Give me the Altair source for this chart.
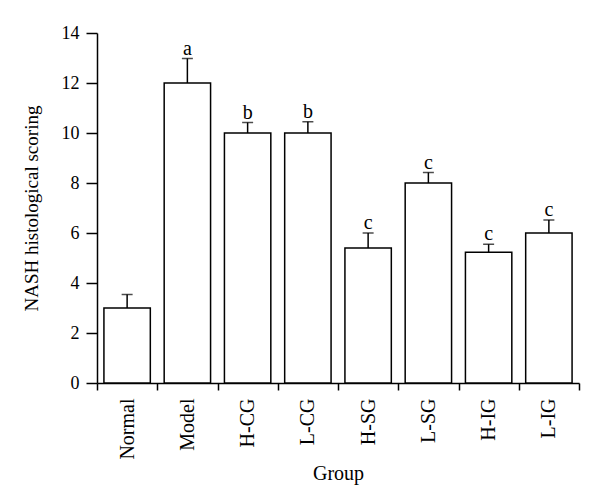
import altair as alt
import pandas as pd

groups = ["Normal", "Model", "H-CG", "L-CG", "H-SG", "L-SG", "H-IG", "L-IG"]
means = [3.0, 12.0, 10.0, 10.0, 5.4, 8.0, 5.23, 6.0]
uppers = [3.54, 12.98, 10.42, 10.45, 6.0, 8.42, 5.55, 6.52]
letters = ["", "a", "b", "b", "c", "c", "c", "c"]
y_ticks = [0, 2, 4, 6, 8, 10, 12, 14]

df = pd.DataFrame({"group": groups, "mean": means, "upper": uppers, "letter": letters})

FONT = "Liberation Serif"

x_enc = alt.X(
    "group:N",
    sort=groups,
    title="Group",
    scale=alt.Scale(paddingInner=0, paddingOuter=0),
    axis=alt.Axis(
        labelAngle=-90,
        tickBand="extent",
        tickSize=7,
        labelPadding=8,
        titlePadding=4,
        labelFontSize=20,
        titleFontSize=20,
    ),
)
y_scale = alt.Scale(domain=[0, 14], nice=False)

bars = alt.Chart(df).mark_bar(
    fill="white", stroke="black", strokeWidth=1.5, width={"band": 0.77}
).encode(
    x=x_enc,
    y=alt.Y(
        "mean:Q",
        scale=y_scale,
        title="NASH histological scoring",
        axis=alt.Axis(
            values=y_ticks,
            tickSize=11,
            labelPadding=7,
            titlePadding=20,
            labelFontSize=18,
            titleFontSize=19,
        ),
    ),
)

stems = alt.Chart(df).mark_rule(color="black", strokeWidth=1.5).encode(
    x=alt.X("group:N", sort=groups),
    y=alt.Y("mean:Q", scale=y_scale),
    y2="upper:Q",
)

caps = alt.Chart(df).mark_tick(color="black", thickness=1.5, size=11).encode(
    x=alt.X("group:N", sort=groups),
    y=alt.Y("upper:Q", scale=y_scale),
)

labels = alt.Chart(df).mark_text(
    font=FONT, fontSize=20, color="black", baseline="alphabetic", dy=-4
).encode(
    x=alt.X("group:N", sort=groups),
    y=alt.Y("upper:Q", scale=y_scale),
    text="letter:N",
)

chart = (
    alt.layer(bars, stems, caps, labels)
    .properties(
        width=482,
        height=350,
        autosize=alt.AutoSizeParams(type="none"),
        padding={"left": 89, "top": 25, "right": 10, "bottom": 112},
        background="white",
    )
    .configure_view(stroke=None)
    .configure_axis(
        grid=False,
        domainColor="black",
        domainWidth=1.5,
        tickColor="black",
        tickWidth=1.5,
        labelColor="black",
        titleColor="black",
        labelFont=FONT,
        titleFont=FONT,
        titleFontWeight="normal",
    )
)

chart.save("out.html", embed_options={"renderer": "svg", "actions": False})
